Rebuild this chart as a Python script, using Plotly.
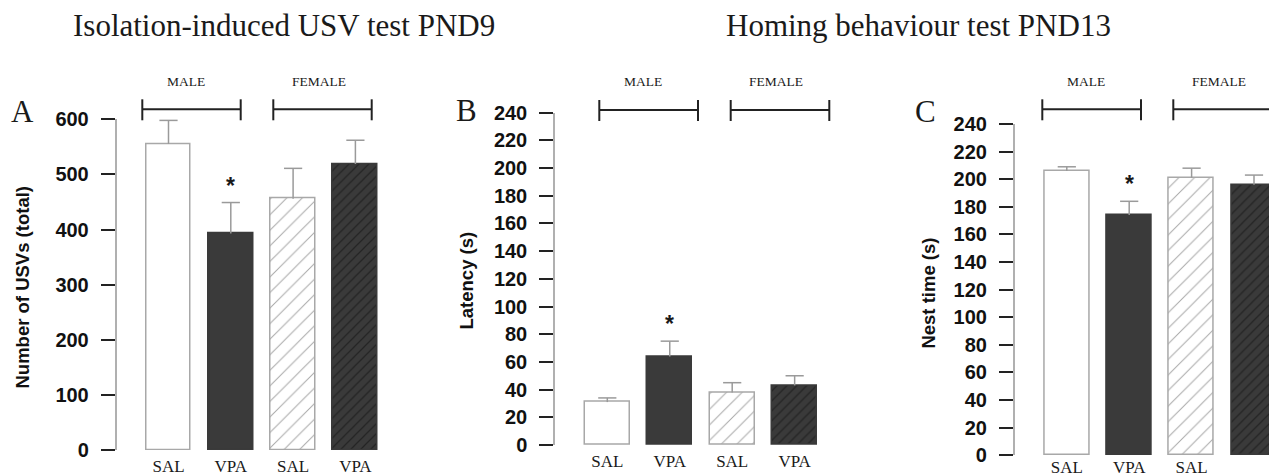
import plotly.graph_objects as go

W, H = 1269, 476

# ---------------- data ----------------
groups = ["SAL", "VPA", "SAL", "VPA"]
sexes = ["MALE", "FEMALE"]

usv_mean = [555, 393, 456, 519]
usv_sem = [43, 56, 55, 43]

latency_mean = [31, 64, 38, 43]
latency_sem = [3, 11, 7, 7]

nest_mean = [206, 174, 201, 196]
nest_sem = [3, 10, 7, 7]

significant = [False, True, False, False]

title_usv = "Isolation-induced USV test PND9"
title_homing = "Homing behaviour test PND13"

# ---------------- styles ----------------
SERIF = "Liberation Serif, Times New Roman, serif"
SANS = "Liberation Sans, Arial, sans-serif"
DARK = "#3a3a3a"
GREY = "#a8a8a8"
ERR = "#9a9a9a"
INK = "#1a1a1a"

bar_styles = [
    dict(bg="white", fg=GREY, shape="", size=11, solid=0.1, edge=GREY),
    dict(bg=DARK, fg=DARK, shape="", size=11, solid=0.1, edge=DARK),
    dict(bg="white", fg=GREY, shape="/", size=11, solid=0.09, edge=GREY),
    dict(bg=DARK, fg="#242424", shape="/", size=7, solid=0.18, edge=DARK),
]


def px(x):
    return x / W


def py(y):
    return 1 - y / H


panels = [
    dict(mean=usv_mean, sem=usv_sem, ymax=600, dtick=100,
         axis_x=116.5, c0=168.5, step=62.3, right=400, y0=450, ytop=119.3,
         ytitle="Number of USVs (total)", yt_xy=(22, 287.5),
         letter="A", l_xy=(22.5, 111), xstand=4,
         brackets=[(142.3, 240.7), (273.3, 371.7)], b_y=109.3,
         sex_x=[185.7, 319]),
    dict(mean=latency_mean, sem=latency_sem, ymax=240, dtick=20,
         axis_x=555, c0=607.3, step=62.45, right=850, y0=445, ytop=112.7,
         ytitle="Latency (s)", yt_xy=(466.7, 280.8),
         letter="B", l_xy=(466.7, 110), xstand=4,
         brackets=[(599.3, 698), (730.7, 829.3)], b_y=110,
         sex_x=[642.7, 776]),
    dict(mean=nest_mean, sem=nest_sem, ymax=240, dtick=20,
         axis_x=1014.7, c0=1066.8, step=62.4, right=1269, y0=455.3, ytop=124,
         ytitle="Nest time (s)", yt_xy=(928.3, 293.3),
         letter="C", l_xy=(925, 111.5), xstand=0,
         brackets=[(1042.3, 1141), (1173.3, 1280)], b_y=109.3,
         sex_x=[1086, 1219.3]),
]

fig = go.Figure()
shapes = []
annotations = []
xpos = list(range(len(groups)))

for i, p in enumerate(panels):
    n = "" if i == 0 else str(i + 1)
    xa, ya = "x" + n, "y" + n
    tops = [m + s for m, s in zip(p["mean"], p["sem"])]

    for k, st in enumerate(bar_styles):
        pattern = dict(shape=st["shape"], bgcolor=st["bg"], fgcolor=st["fg"],
                       size=st["size"], solidity=st["solid"],
                       fillmode="replace")
        fig.add_trace(go.Bar(
            x=[xpos[k]], y=[p["mean"][k]], width=0.72, xaxis=xa, yaxis=ya,
            marker=dict(color=st["bg"], line=dict(color=st["edge"], width=1.5),
                        pattern=pattern),
            error_y=dict(type="data", symmetric=False, array=[p["sem"][k]],
                         arrayminus=[0], color=ERR, thickness=1.5, width=0),
            showlegend=False, hoverinfo="skip"))
    fig.add_trace(go.Scatter(
        x=xpos, y=tops, mode="markers", xaxis=xa, yaxis=ya,
        marker=dict(symbol="line-ew", size=13,
                    line=dict(color=ERR, width=1.5)),
        showlegend=False, hoverinfo="skip", cliponaxis=False))

    lo = -(p["c0"] - p["axis_x"]) / p["step"]
    hi = (p["right"] - p["c0"]) / p["step"]
    fig.update_layout(**{
        ("xaxis" + n): dict(domain=[px(p["axis_x"]), px(p["right"])],
                            range=[lo, hi], anchor=ya, automargin=False,
                            tickvals=xpos, ticktext=groups,
                            tickfont=dict(family=SERIF, size=17, color=INK),
                            showline=False, ticks="", showgrid=False,
                            zeroline=False, ticklabelstandoff=p["xstand"],
                            fixedrange=True),
        ("yaxis" + n): dict(domain=[py(p["y0"]), py(p["ytop"])],
                            range=[0, p["ymax"]], anchor=xa, automargin=False,
                            dtick=p["dtick"], tick0=0,
                            tickfont=dict(family=SANS, size=20, color="#111",
                                          weight="bold"),
                            ticks="outside", ticklen=14, tickwidth=2,
                            tickcolor="#222", showline=True,
                            linecolor="#b0b0b0", linewidth=1.5,
                            showgrid=False, zeroline=False,
                            ticklabelstandoff=8, fixedrange=True),
    })

    # significance asterisks
    for k, sig in enumerate(significant):
        if sig:
            annotations.append(dict(x=xpos[k], y=tops[k], xref=xa, yref=ya,
                                    text="*", showarrow=False,
                                    yanchor="bottom", yshift=2,
                                    font=dict(family=SANS, size=23,
                                              color=INK, weight="bold")))

    # y title
    annotations.append(dict(x=px(p["yt_xy"][0]), y=py(p["yt_xy"][1]),
                            xref="paper", yref="paper", text=p["ytitle"],
                            textangle=-90, showarrow=False,
                            xanchor="center", yanchor="middle",
                            font=dict(family=SANS, size=18.5, color="#111",
                                      weight="bold")))
    # panel letter
    annotations.append(dict(x=px(p["l_xy"][0]), y=py(p["l_xy"][1]),
                            xref="paper", yref="paper", text=p["letter"],
                            showarrow=False, xanchor="center",
                            yanchor="middle",
                            font=dict(family=SERIF, size=31, color=INK)))
    # sex brackets
    for (xl, xr), label, sx in zip(p["brackets"], sexes, p["sex_x"]):
        by = p["b_y"]
        line = dict(color="#222", width=2)
        shapes.append(dict(type="line", xref="paper", yref="paper",
                           x0=px(xl), x1=px(xr), y0=py(by), y1=py(by),
                           line=line))
        for xe in (xl, xr):
            shapes.append(dict(type="line", xref="paper", yref="paper",
                               x0=px(xe), x1=px(xe), y0=py(by - 10),
                               y1=py(by + 11), line=line))
        annotations.append(dict(x=px(sx), y=py(81.7), xref="paper",
                                yref="paper", text=label, showarrow=False,
                                xanchor="center", yanchor="middle",
                                font=dict(family=SERIF, size=13.5,
                                          color=INK)))

# section titles
annotations.append(dict(x=px(284), y=py(25), xref="paper", yref="paper",
                        text=title_usv, showarrow=False, xanchor="center",
                        yanchor="middle",
                        font=dict(family=SERIF, size=31, color=INK)))
annotations.append(dict(x=px(918), y=py(25), xref="paper", yref="paper",
                        text=title_homing, showarrow=False,
                        xanchor="center", yanchor="middle",
                        font=dict(family=SERIF, size=31, color=INK)))

fig.update_layout(width=W, height=H, autosize=False,
                  margin=dict(l=0, r=0, t=0, b=0, pad=0),
                  paper_bgcolor="white", plot_bgcolor="white",
                  barmode="overlay", bargap=0,
                  shapes=shapes, annotations=annotations)

fig.write_html("out.html", config=dict(displayModeBar=False))
